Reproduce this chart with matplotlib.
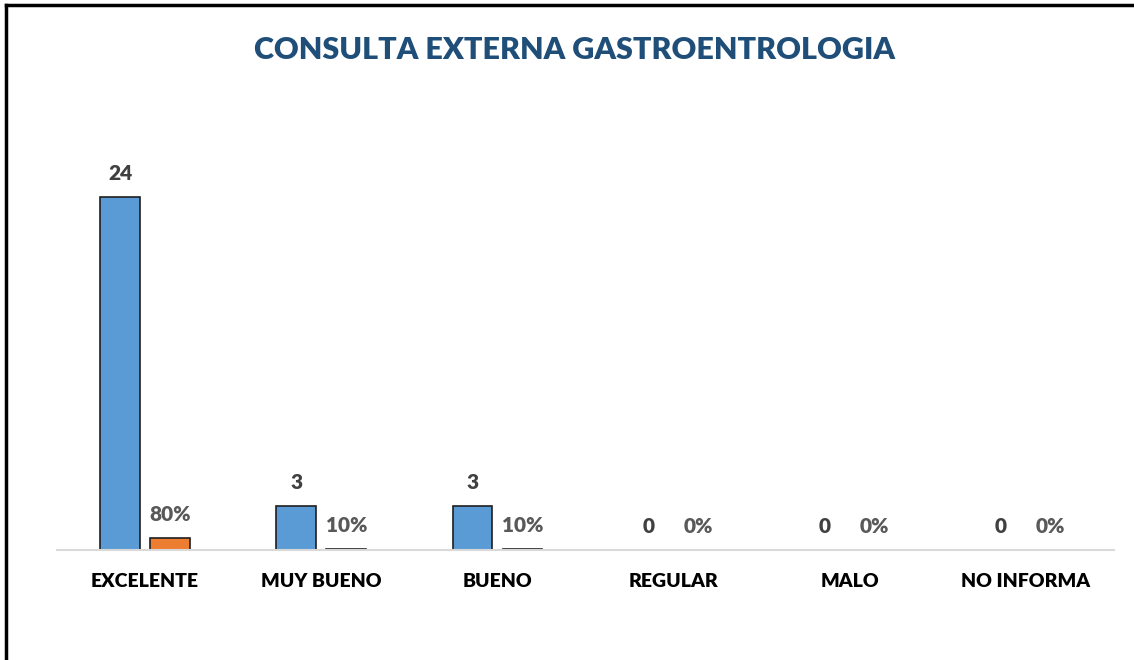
import numpy as np
import matplotlib
matplotlib.use("Agg")
import matplotlib.pyplot as plt
from matplotlib.lines import Line2D

plt.rcParams['font.family'] = ['Lato', 'DejaVu Sans']

# datos de la encuesta
categorias = ['EXCELENTE', 'MUY BUENO', 'BUENO', 'REGULAR', 'MALO', 'NO INFORMA']
cantidad = [24, 3, 3, 0, 0, 0]
porcentaje = [0.80, 0.10, 0.10, 0.0, 0.0, 0.0]
titulo = 'CONSULTA EXTERNA GASTROENTROLOGIA'

azul = '#5B9BD5'
naranja = '#ED7D31'

fig = plt.figure(figsize=(11.34, 6.6), dpi=100)
ax = fig.add_axes([0.0503, 0.1667, 0.932, 0.6243])

x = np.arange(len(categorias))
ancho = 0.225
desp = 0.142
b1 = ax.bar(x - desp, cantidad, ancho, color=azul, edgecolor='#1f1f1f', linewidth=1.2)
b2 = ax.bar(x + desp, porcentaje, ancho, color=naranja, edgecolor='#1f1f1f', linewidth=1.2)

for rect, v in zip(b1, cantidad):
    ax.annotate(str(v), (rect.get_x() + rect.get_width() / 2, rect.get_height()),
                xytext=(0, 10), textcoords='offset points', ha='center', va='bottom',
                fontsize=15, fontweight='heavy', color='#404040')
for rect, v in zip(b2, porcentaje):
    ax.annotate('{:.0f}%'.format(v * 100), (rect.get_x() + rect.get_width() / 2, rect.get_height()),
                xytext=(0, 10), textcoords='offset points', ha='center', va='bottom',
                fontsize=15, fontweight='heavy', color='#595959')

ax.set_xlim(-0.5, len(categorias) - 0.5)
ax.set_ylim(0, 28)
ax.set_xticks(x)
ax.set_xticklabels(categorias)
for lab in ax.get_xticklabels():
    lab.set_fontsize(14)
    lab.set_fontweight('heavy')
    lab.set_color('black')
ax.tick_params(axis='x', length=0, pad=16.5)
ax.set_yticks([])
for s in ['top', 'right', 'left']:
    ax.spines[s].set_visible(False)
ax.spines['bottom'].set_color('#d9d9d9')
ax.spines['bottom'].set_linewidth(1.5)

fig.text(0.507, 0.924, titulo, ha='center', va='center', fontsize=22,
         fontweight='heavy', color='#1F4E79')

# marco superior e izquierdo
fig.add_artist(Line2D([0.005, 1.0], [0.993, 0.993], color='black', lw=2.5, transform=fig.transFigure))
fig.add_artist(Line2D([0.0055, 0.0055], [0.0, 0.993], color='black', lw=2.5, transform=fig.transFigure))

fig.savefig('out.png', dpi=100)
